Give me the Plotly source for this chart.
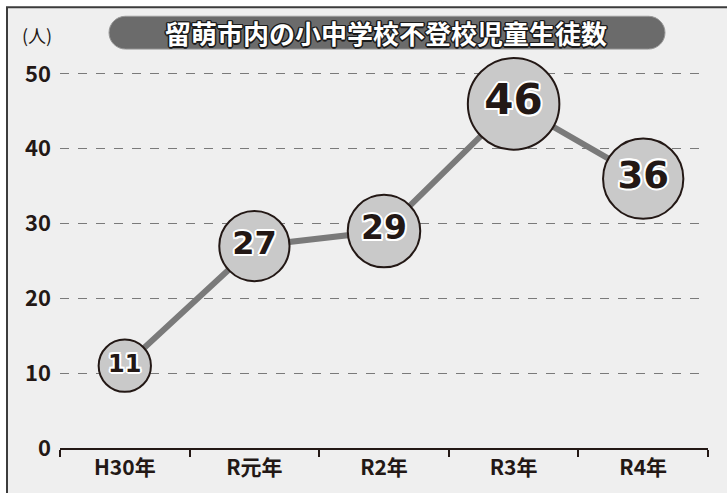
import plotly.graph_objects as go

categories = ["H30年", "R元年", "R2年", "R3年", "R4年"]
values = [11, 27, 29, 46, 36]
y_ticks = [0, 10, 20, 30, 40, 50]
title_text = "留萌市内の小中学校不登校児童生徒数"
unit_text = "(人)"

W, H = 727, 493
ML, MR, MT, MB = 60, 19, 66, 43
PW = W - ML - MR
PH = H - MT - MB
UNIT = 376 / 50
YMAX = PH / UNIT

def px(x):
    return (x - ML) / PW

def py(y):
    return (H - MB - y) / PH

def pill_path(x0, x1, y0, y1):
    r = (y1 - y0) / 2
    k = 0.5523 * r
    cy = (y0 + y1) / 2
    lx = x0 + r
    rx = x1 - r
    pts = []
    pts.append(f"M {px(lx)} {py(y0)}")
    pts.append(f"L {px(rx)} {py(y0)}")
    pts.append(f"C {px(rx + k)} {py(y0)} {px(x1)} {py(cy - k)} {px(x1)} {py(cy)}")
    pts.append(f"C {px(x1)} {py(cy + k)} {px(rx + k)} {py(y1)} {px(rx)} {py(y1)}")
    pts.append(f"L {px(lx)} {py(y1)}")
    pts.append(f"C {px(lx - k)} {py(y1)} {px(x0)} {py(cy + k)} {px(x0)} {py(cy)}")
    pts.append(f"C {px(x0)} {py(cy - k)} {px(lx - k)} {py(y0)} {px(lx)} {py(y0)}")
    pts.append("Z")
    return " ".join(pts)

sizes = [40 + 1.12 * v for v in values]
fsizes = [int(round(18 + 0.52 * v)) for v in values]

ws = ",".join(f"{dx}px {dy}px 0 white" for dx, dy in
              [(2, 0), (-2, 0), (0, 2), (0, -2), (1.5, 1.5), (-1.5, 1.5), (1.5, -1.5), (-1.5, -1.5)])
ds = ",".join(f"{dx}px {dy}px 0 #1a1a1a" for dx, dy in
              [(1.5, 0), (-1.5, 0), (0, 1.5), (0, -1.5), (1, 1), (-1, 1), (1, -1), (-1, -1)])

fig = go.Figure()
fig.add_trace(go.Scatter(
    x=categories, y=values,
    mode="lines+markers+text",
    line=dict(color="#7a7a7a", width=6),
    marker=dict(size=sizes, color="#c9c9c9", line=dict(color="#231815", width=2), opacity=1),
    text=[str(v) for v in values],
    textposition="middle center",
    textfont=dict(family="DejaVu Sans", size=fsizes, color="#231815", weight="bold", shadow=ws),
    cliponaxis=False,
    hoverinfo="skip",
))

shapes = [
    dict(type="rect", xref="paper", yref="paper", x0=px(7), x1=px(760), y0=py(7), y1=py(520),
         fillcolor="#efefef", line=dict(color="#3c3c3c", width=2), layer="below"),
    dict(type="path", xref="paper", yref="paper", path=pill_path(109, 665, 16, 49),
         fillcolor="#6b6b6b", line=dict(color="#9a9a9a", width=1), layer="below"),
]

fig.update_layout(
    width=W, height=H,
    margin=dict(l=ML, r=MR, t=MT, b=MB),
    paper_bgcolor="white",
    plot_bgcolor="rgba(0,0,0,0)",
    showlegend=False,
    shapes=shapes,
    annotations=[
        dict(text=title_text, xref="paper", yref="paper", x=px(386), y=py(32),
             showarrow=False, xanchor="center", yanchor="middle",
             font=dict(family="Noto Sans CJK JP", size=26, color="white", weight="bold", shadow=ds)),
        dict(text=unit_text, xref="paper", yref="paper", x=px(37), y=py(35),
             showarrow=False, xanchor="center", yanchor="middle",
             font=dict(family="Noto Sans CJK JP", size=18, color="#231815")),
    ],
    xaxis=dict(
        type="category", range=[-0.5, 4.5],
        showline=True, linecolor="#231815", linewidth=2,
        ticks="outside", ticklen=7, tickcolor="#231815", tickwidth=2,
        tickson="boundaries", showgrid=False, zeroline=False,
        tickfont=dict(family="Noto Sans CJK JP", size=21, color="#231815", weight="bold"),
        fixedrange=True,
    ),
    yaxis=dict(
        range=[0, YMAX], tickvals=y_ticks, ticktext=[str(t) for t in y_ticks],
        showgrid=True, gridcolor="#7a7a7a", griddash="dash", gridwidth=1,
        zeroline=False, showline=False, ticks="", ticklabelstandoff=8,
        tickfont=dict(family="Noto Sans CJK JP", size=22, color="#231815", weight="bold"),
        fixedrange=True,
    ),
)

fig.write_html("out.html", config={"displayModeBar": False},
               post_script="document.body.style.margin='0px';document.body.style.overflow='hidden';")
